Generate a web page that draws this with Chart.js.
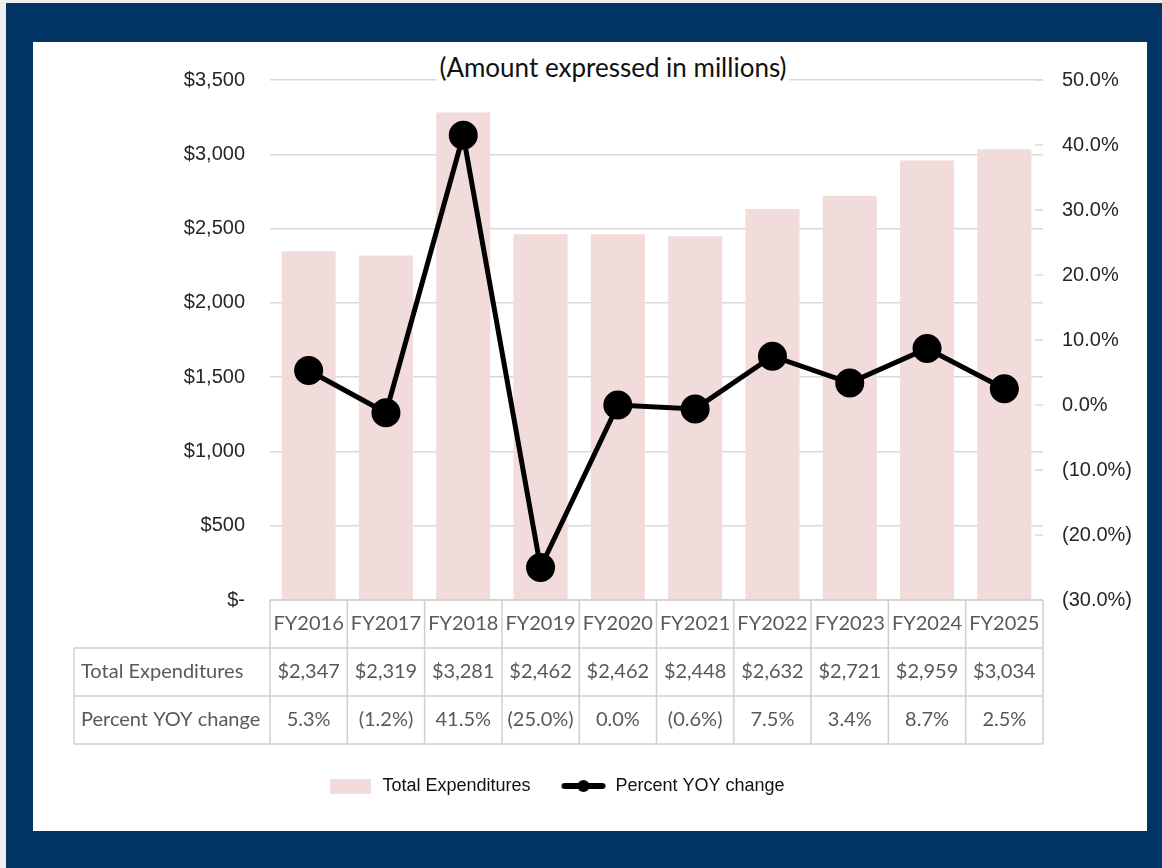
<!DOCTYPE html>
<html lang="en">
<head>
<meta charset="UTF-8">
<title>Total Expenditures</title>
<script src="https://cdn.jsdelivr.net/npm/chart.js"></script>
<style>
  body { margin: 0; background: #efefef; }
  .frame { position: absolute; left: 6px; top: 3px; width: 1156px; height: 865px; background: #023466; }
  .panel { position: absolute; left: 33px; top: 42px; width: 1114px; height: 789px; background: #fff; }
  .panel canvas { position: absolute; left: 0; top: 0; }
  .note {
    position: absolute; left: 580px; top: 9px; transform: translateX(-50%);
    background: #fff; padding: 0 3px; white-space: nowrap;
    font: 26px Lato, sans-serif; line-height: 32px; color: #111;
  }
</style>
</head>
<body>
<div class="frame"></div>
<div class="panel">
  <canvas id="chart" width="1114" height="789"></canvas>
  <div class="note">(Amount expressed in millions)</div>
</div>

<script>
  const years = ["FY2016", "FY2017", "FY2018", "FY2019", "FY2020", "FY2021", "FY2022", "FY2023", "FY2024", "FY2025"];
  const totals = [2347, 2319, 3281, 2462, 2462, 2448, 2632, 2721, 2959, 3034];
  const yoyPct = [5.3, -1.2, 41.5, -25.0, 0.0, -0.6, 7.5, 3.4, 8.7, 2.5];
  const rowNames = ["Total Expenditures", "Percent YOY change"];

  const pink = "#F2DCDB";
  const axisFont = "'Liberation Sans', Arial, sans-serif";
  const tableInk = "#595959";
  const tableFont = "20px Lato, sans-serif";
  const rowH = 48;
  const tableLeft = 41;
  const legendShift = -34;

  const money = v => "$" + v.toLocaleString("en-US");
  const pct = v => v < 0 ? "(" + Math.abs(v).toFixed(1) + "%)" : v.toFixed(1) + "%";

  // legend keys: flat pink block and a thick line with a dot
  function swatch(w, h, paint) {
    const c = document.createElement("canvas");
    c.width = w; c.height = h;
    paint(c.getContext("2d"));
    return c;
  }
  const barKey = swatch(41, 15, g => { g.fillStyle = pink; g.fillRect(0, 0, 41, 15); });
  const lineKey = swatch(46, 16, g => {
    g.strokeStyle = "#000"; g.fillStyle = "#000";
    g.lineWidth = 6; g.lineCap = "round";
    g.beginPath(); g.moveTo(4, 8); g.lineTo(42, 8); g.stroke();
    g.beginPath(); g.arc(23, 8, 6, 0, Math.PI * 2); g.fill();
  });

  // short tick marks on the right-hand axis, inside the plot edge
  const rightTicks = {
    id: "rightTicks",
    beforeDatasetsDraw(chart) {
      const { ctx, chartArea, scales: { y1 } } = chart;
      ctx.save();
      ctx.strokeStyle = "#d9d9d9";
      ctx.lineWidth = 1.5;
      ctx.beginPath();
      y1.ticks.forEach(t => {
        const py = y1.getPixelForValue(t.value);
        ctx.moveTo(chartArea.right - 8, py);
        ctx.lineTo(chartArea.right, py);
      });
      ctx.stroke();
      ctx.restore();
    }
  };

  // legend sits a little left of the canvas centre
  const legendOffset = {
    id: "legendOffset",
    afterLayout(chart) {
      chart.legend.left += legendShift;
      chart.legend.right += legendShift;
    }
  };

  // grid of the data table under the bars, plus its row headings
  const dataTable = {
    id: "dataTable",
    afterDraw(chart) {
      const { ctx, chartArea, scales: { x } } = chart;
      const colW = x.width / years.length;
      const top = chartArea.bottom;
      ctx.save();
      ctx.strokeStyle = "#cfcfcf";
      ctx.lineWidth = 1.5;
      ctx.beginPath();
      ctx.moveTo(x.left, top); ctx.lineTo(x.right, top);
      for (let r = 1; r <= 3; r++) {
        ctx.moveTo(tableLeft, top + r * rowH);
        ctx.lineTo(x.right, top + r * rowH);
      }
      years.forEach((_, i) => {
        const cx = x.getPixelForValue(i) - colW / 2;
        ctx.moveTo(cx, top); ctx.lineTo(cx, top + 3 * rowH);
      });
      ctx.moveTo(x.right, top); ctx.lineTo(x.right, top + 3 * rowH);
      ctx.moveTo(tableLeft, top + rowH); ctx.lineTo(tableLeft, top + 3 * rowH);
      ctx.stroke();

      ctx.fillStyle = tableInk;
      ctx.font = tableFont;
      ctx.textAlign = "left";
      ctx.textBaseline = "middle";
      rowNames.forEach((name, r) => ctx.fillText(name, tableLeft + 7, top + (r + 1.5) * rowH));
      ctx.restore();
    }
  };

  new Chart(document.getElementById("chart"), {
    data: {
      labels: years,
      datasets: [
        {
          type: "bar",
          label: "Total Expenditures",
          data: totals,
          backgroundColor: pink,
          barPercentage: 0.7,
          categoryPercentage: 1.0,
          yAxisID: "y",
          order: 2
        },
        {
          type: "line",
          label: "Percent YOY change",
          data: yoyPct,
          borderColor: "#000",
          borderWidth: 5,
          pointRadius: 12,
          pointBackgroundColor: "#000",
          pointBorderColor: "#000",
          tension: 0,
          clip: false,
          yAxisID: "y1",
          order: 1
        }
      ]
    },
    options: {
      responsive: false,
      animation: false,
      layout: { padding: { left: 0, right: 0, top: 38, bottom: 26 } },
      plugins: {
        tooltip: { enabled: false },
        legend: {
          position: "bottom",
          labels: {
            usePointStyle: true,
            pointStyleWidth: 46,
            boxHeight: 16,
            padding: 30,
            color: "#111",
            font: { family: axisFont, size: 18 },
            sort: (a, b) => a.datasetIndex - b.datasetIndex,
            generateLabels: chart =>
              Chart.defaults.plugins.legend.labels.generateLabels(chart)
                .map(item => ({ ...item, pointStyle: item.datasetIndex === 0 ? barKey : lineKey }))
          }
        }
      },
      scales: {
        x: {
          grid: { display: false, drawTicks: false },
          border: { display: false },
          afterFit: s => { s.height = 147; },
          ticks: {
            autoSkip: false,
            maxRotation: 0,
            padding: 0,
            color: tableInk,
            font: { family: "Lato, sans-serif", size: 20, lineHeight: rowH / 20 },
            callback: (v, i) => [years[i], money(totals[i]), pct(yoyPct[i])]
          }
        },
        y: {
          position: "left",
          min: 0,
          max: 3500,
          afterFit: s => { s.width = 237; },
          grid: { color: "#d9d9d9", lineWidth: 1.5, drawTicks: false },
          border: { display: false },
          ticks: {
            stepSize: 500,
            padding: 25,
            color: "#262626",
            font: { family: axisFont, size: 20 },
            callback: v => v === 0 ? "$-" : "$" + v.toLocaleString("en-US")
          }
        },
        y1: {
          position: "right",
          min: -30,
          max: 50,
          afterFit: s => { s.width = 104; },
          grid: { drawOnChartArea: false, drawTicks: false },
          border: { display: false },
          ticks: {
            stepSize: 10,
            padding: 19,
            color: "#262626",
            font: { family: axisFont, size: 20 },
            callback: v => pct(v)
          }
        }
      }
    },
    plugins: [rightTicks, legendOffset, dataTable]
  });
</script>
</body>
</html>
